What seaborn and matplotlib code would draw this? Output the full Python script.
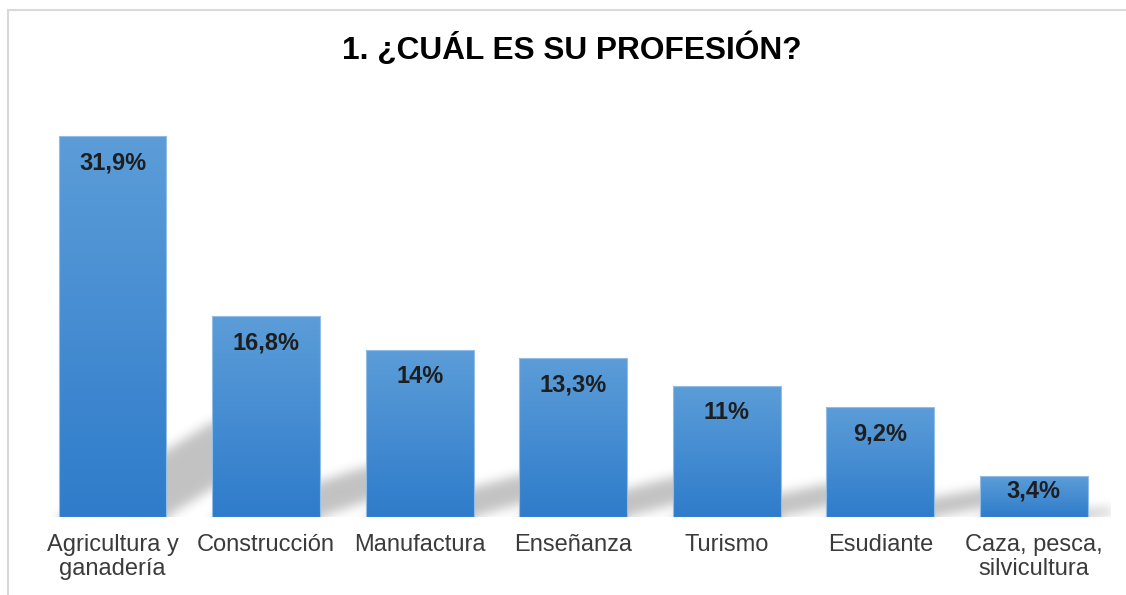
import numpy as np
import pandas as pd
import matplotlib
matplotlib.use("Agg")
import matplotlib.pyplot as plt
import seaborn as sns
from matplotlib.patches import Rectangle
from matplotlib.colors import LinearSegmentedColormap

# ---------------- data ----------------
categories = ["Agricultura y\nganadería", "Construcción", "Manufactura", "Enseñanza",
              "Turismo", "Esudiante", "Caza, pesca,\nsilvicultura"]
values = [31.9, 16.8, 14.0, 13.3, 11.0, 9.2, 3.4]
value_labels = ["31,9%", "16,8%", "14%", "13,3%", "11%", "9,2%", "3,4%"]
title = "1. ¿CUÁL ES SU PROFESIÓN?"

# ---------------- style ----------------
sns.set_theme(style="white")
plt.rcParams['font.family'] = ['Liberation Sans', 'DejaVu Sans']

W, H = 1126, 595
fig = plt.figure(figsize=(W / 100, H / 100), dpi=100)
fig.patch.set_facecolor("white")
ax_px = (35.7, 517, 1075, 418)  # left, bottom(from top), width, height in px
ax = fig.add_axes([ax_px[0] / W, 1 - ax_px[1] / H, ax_px[2] / W, ax_px[3] / H])
ax.set_facecolor("white")

YMAX = 35
bw = 0.703
df = pd.DataFrame({"cat": categories, "val": values})
sns.barplot(data=df, x="cat", y="val", color="#4a90d0", width=bw, ax=ax, zorder=3)

# ---------------- shadows (derived from bar values) ----------------
nx, ny = 1075, 460
y0, y1 = -3.5, YMAX
xs = np.linspace(-0.5, 6.5, nx)
ys = np.linspace(y0, y1, ny)
X, Y = np.meshgrid(xs, ys)
mask = np.zeros_like(X)
for i, v in enumerate(values):
    hs = 0.25 * v
    t = np.clip(Y / hs, 0, None)
    inside = (Y <= hs) & (Y >= -1.0) & (X >= i - bw / 2 + t) & (X <= i + bw / 2 + t)
    mask[inside] = 1.0

sigma = 5.5
kx = np.arange(-int(3 * sigma), int(3 * sigma) + 1)
kern = np.exp(-0.5 * (kx / sigma) ** 2)
kern /= kern.sum()
blur = np.apply_along_axis(lambda r: np.convolve(r, kern, mode="same"), 1, mask)
blur = np.apply_along_axis(lambda c: np.convolve(c, kern, mode="same"), 0, blur)
rgba = np.zeros((ny, nx, 4))
rgba[..., 3] = blur * 0.24
ax.imshow(rgba, extent=(-0.5, 6.5, y0, y1), origin="lower", aspect="auto",
          zorder=1, interpolation="bilinear")

# ---------------- gradient bars ----------------
cmap = LinearSegmentedColormap.from_list("barg", ["#2F7CCB", "#5C9DD8"])
grad = np.linspace(0, 1, 256).reshape(-1, 1)
for p in ax.patches:
    x, w, h = p.get_x(), p.get_width(), p.get_height()
    im = ax.imshow(grad, extent=(x, x + w, 0, h), origin="lower", cmap=cmap,
                   aspect="auto", zorder=2.5, interpolation="bilinear")
    im.set_clip_path(p)
    p.set_facecolor("none")
    p.set_edgecolor("#93bde6")
    p.set_linewidth(0.8)
    p.set_zorder(3)

ax.set_xlim(-0.5, 6.5)
ax.set_ylim(0, YMAX)

# ---------------- value labels ----------------
px_per_unit = ax_px[3] / YMAX
for i, (v, lab) in enumerate(zip(values, value_labels)):
    off_px = min(27, v * px_per_unit * 0.35)
    ax.annotate(lab, (i, v), xytext=(0, -off_px * 72 / 100), textcoords="offset points",
                ha="center", va="center", fontsize=17, fontweight="bold",
                color="#1e1e1e", zorder=5)

# ---------------- axes cosmetics ----------------
for s in ax.spines.values():
    s.set_visible(False)
ax.set_yticks([])
ax.set_xlabel("")
ax.set_ylabel("")
ax.tick_params(axis="x", length=0, pad=12, labelsize=17, labelcolor="#3b3b3b")
for t in ax.get_xticklabels():
    t.set_linespacing(1.12)

# ---------------- title & frame ----------------
fig.text(572 / W, 1 - 59 / H, title, ha="center", va="baseline", fontsize=22.8,
         fontweight="bold", color="black")
fig.add_artist(Rectangle((8 / W, -0.05), 1.2, 1 - 10 / H + 0.05, transform=fig.transFigure,
                         fill=False, edgecolor="#d9d9d9", lw=1.5))

fig.savefig("out.png", dpi=100)
